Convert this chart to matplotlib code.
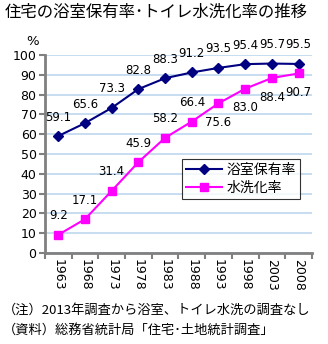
import matplotlib.pyplot as plt
import numpy as np

plt.rcParams['font.family'] = ['Noto Sans CJK JP', 'DejaVu Sans']

years = ['1963', '1968', '1973', '1978', '1983', '1988', '1993', '1998', '2003', '2008']
bath = [59.1, 65.6, 73.3, 82.8, 88.3, 91.2, 93.5, 95.4, 95.7, 95.5]
flush = [9.2, 17.1, 31.4, 45.9, 58.2, 66.4, 75.6, 83.0, 88.4, 90.7]
# label placement for the flush series: above up to 1988, below after
flush_above = [True, True, True, True, True, True, False, False, False, False]

fig = plt.figure(figsize=(3.28, 3.44), dpi=100)
ax = fig.add_axes([0.137, 0.2645, 0.814, 0.5755])

x = np.arange(len(years))
ax.plot(x, bath, color='#000080', marker='D', markersize=5, lw=1.5, label='浴室保有率')
ax.plot(x, flush, color='#FF00FF', marker='s', markersize=5.5, lw=1.5, label='水洗化率')

for xi, v in zip(x, bath):
    ax.annotate(f'{v:.1f}', (xi, v), xytext=(0, 9), textcoords='offset points',
                ha='center', va='bottom', fontsize=8.5, family='DejaVu Sans')
for xi, v, up in zip(x, flush, flush_above):
    ax.annotate(f'{v:.1f}', (xi, v), xytext=(0, 9 if up else -9), textcoords='offset points',
                ha='center', va='bottom' if up else 'top', fontsize=8.5, family='DejaVu Sans')

ax.set_xlim(-0.5, len(years) - 0.5)
ax.set_ylim(0, 100)
ax.set_yticks(range(0, 101, 10))
ax.set_yticklabels([str(v) for v in range(0, 101, 10)], fontsize=9, family='DejaVu Sans')
ax.set_xticks(x)
ax.set_xticklabels(years, rotation=-90, fontsize=9, family='DejaVu Sans')
ax.tick_params(axis='x', length=0, pad=4)
ax.set_xticks(np.arange(-0.5, len(years)), minor=True)
ax.tick_params(axis='x', which='minor', length=4, width=1.5, color='#808080')
ax.tick_params(axis='y', length=4, width=1.5, color='#808080', pad=2)
ax.grid(axis='y', color='#BDD7EE', lw=1.2)
ax.set_axisbelow(True)
for s in ['top', 'right']:
    ax.spines[s].set_visible(False)
for s in ['left', 'bottom']:
    ax.spines[s].set_color('#808080')
    ax.spines[s].set_linewidth(2)

leg = ax.legend(loc='upper left', bbox_to_anchor=(0.513, 0.475), fontsize=10,
                frameon=True, fancybox=False, edgecolor='black', handlelength=2.6,
                borderpad=0.3, labelspacing=0.25, handletextpad=0.3, borderaxespad=0)
leg.get_frame().set_linewidth(0.8)

fig.text(0.015, 0.965, '住宅の浴室保有率･トイレ水洗化率の推移', fontsize=11.8, va='center')
fig.text(0.1, 0.878, '%', fontsize=9.5, va='center', ha='center', family='DejaVu Sans')
fig.text(0.01, 0.098, '（注）2013年調査から浴室、トイレ水洗の調査なし', fontsize=9.5, va='center')
fig.text(0.01, 0.04, '（資料）総務省統計局「住宅･土地統計調査」', fontsize=9.5, va='center')

fig.savefig('out.png', dpi=100)
